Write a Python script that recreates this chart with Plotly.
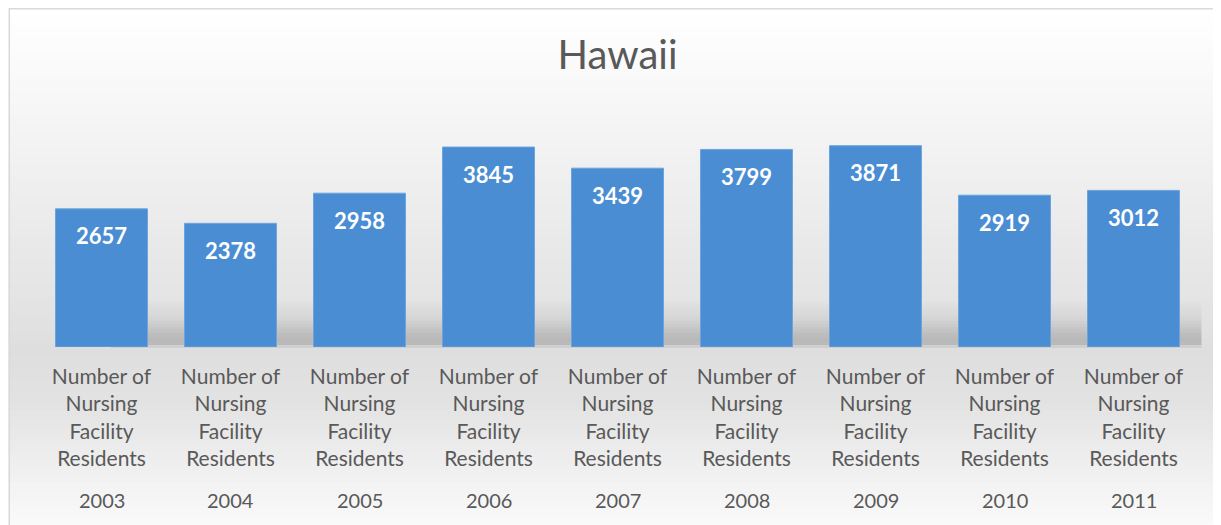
import plotly.graph_objects as go

years = ["2003", "2004", "2005", "2006", "2007", "2008", "2009", "2010", "2011"]
residents = [2657, 2378, 2958, 3845, 3439, 3799, 3871, 2919, 3012]
category_label = "Number of<br>Nursing<br>Facility<br>Residents"
title_text = "Hawaii"

W, H = 1221, 525
OFF = 8  # page body margin: screenshot pixel = figure pixel + OFF
ML, MR, MT, MB = 28.5, 30.5, 105, 186
PH = H - MT - MB
PW = W - ML - MR


def py(y):  # screenshot pixel y -> paper y
    return (H - MB - (y - OFF)) / PH


def px(x):  # screenshot pixel x -> paper x
    return ((x - OFF) - ML) / PW


def lerp(stops, y):
    for (y0, c0), (y1, c1) in zip(stops, stops[1:]):
        if y0 <= y <= y1:
            t = (y - y0) / (y1 - y0) if y1 > y0 else 0
            return c0 + (c1 - c0) * t
    return stops[-1][1]


shapes = []
# background gradient
bg_stops = [(8, 255), (100, 247), (200, 237), (300, 228), (350, 222), (400, 226), (450, 236), (540, 253)]
step = 6
for y in range(8, H + OFF, step):
    v = int(round(lerp(bg_stops, y + step / 2)))
    shapes.append(dict(type="rect", xref="paper", yref="paper",
                       x0=px(8), x1=px(W + OFF), y0=py(min(y + step, H + OFF)), y1=py(y),
                       fillcolor=f"rgb({v},{v},{v})", line=dict(width=0), layer="below"))
# shadow band behind bars
sh_stops = [(300, 0.0), (320, 0.06), (335, 0.16), (343, 0.18), (347, 0.05)]
for y in range(300, 347, 3):
    a = lerp(sh_stops, y + 1.5)
    shapes.append(dict(type="rect", xref="paper", yref="paper",
                       x0=px(110), x1=px(1202), y0=py(y + 3), y1=py(y),
                       fillcolor=f"rgba(0,0,0,{a:.3f})", line=dict(width=0), layer="below"))
# border
shapes.append(dict(type="rect", xref="paper", yref="paper",
                   x0=px(8.75), x1=px(W + OFF - 0.75), y0=py(H + OFF - 0.75), y1=py(8.75),
                   line=dict(color="#d9d9d9", width=1.5), fillcolor="rgba(0,0,0,0)", layer="above"))

fig = go.Figure()
fig.add_trace(go.Bar(
    x=years, y=residents,
    marker=dict(color="#4a8dd3", line=dict(color="#6aa6dd", width=1)),
    hoverinfo="x+y",
))

annotations = []
for i, (yr, v) in enumerate(zip(years, residents)):
    annotations.append(dict(x=i, y=v, xref="x", yref="y", text=f"<b>{v}</b>",
                            showarrow=False, yanchor="middle", yshift=-27,
                            font=dict(family="Lato", size=22, color="white")))
    annotations.append(dict(x=i, y=py(500), xref="x", yref="paper", text=yr,
                            showarrow=False, yanchor="middle",
                            font=dict(family="Lato", size=20, color="#595959")))

fig.update_layout(
    width=W, height=H,
    margin=dict(l=ML, r=MR, t=MT, b=MB, autoexpand=False),
    paper_bgcolor="white", plot_bgcolor="rgba(0,0,0,0)",
    title=dict(text=title_text, x=0.5, xref="paper", y=1 - (55 - OFF) / H, yanchor="middle",
               font=dict(family="Lato", size=40, color="#595959")),
    bargap=0.287,
    showlegend=False,
    shapes=shapes,
    annotations=annotations,
    font=dict(family="Lato", color="#595959"),
)
fig.update_xaxes(type="category", categoryorder="array", categoryarray=years,
                 range=[-0.5, len(years) - 0.5],
                 tickmode="array", tickvals=years, ticktext=[category_label] * len(years),
                 tickangle=0, automargin=False,
                 tickfont=dict(family="Lato", size=21, color="#595959"),
                 showgrid=False, zeroline=False, showline=False, ticks="",
                 ticklabelstandoff=15)
fig.update_yaxes(range=[0, 4500], visible=False, showgrid=False, zeroline=False)

fig.write_html("out.html")
